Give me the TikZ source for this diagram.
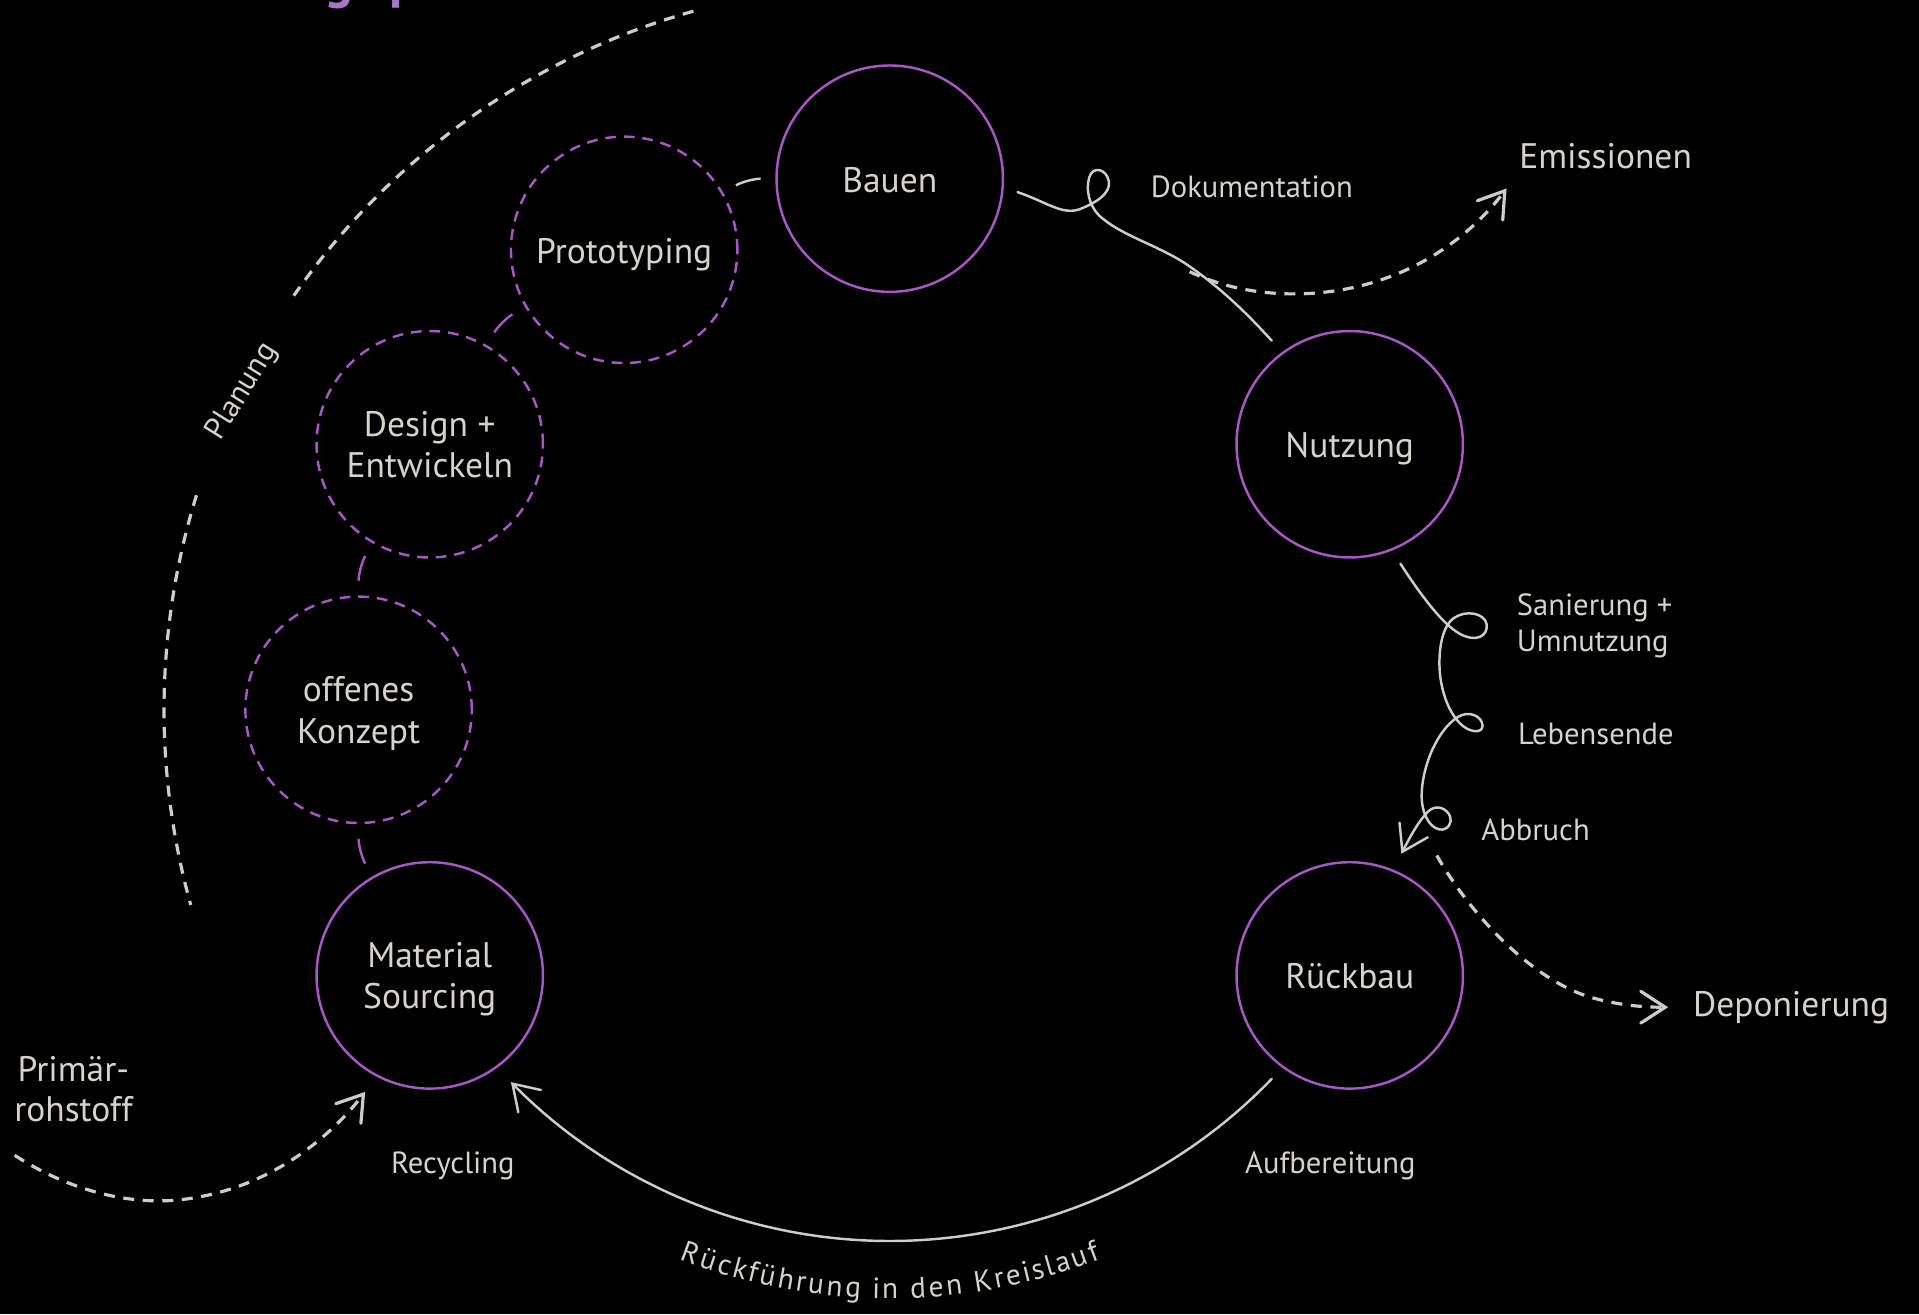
\documentclass[tikz,border=0pt]{standalone}
\usepackage{fontspec}
\setmainfont{PT Sans}
\usetikzlibrary{calc,arrows.meta,decorations.text}

\definecolor{bg}{RGB}{0,0,0}
\definecolor{lilac}{RGB}{170,86,200}
\definecolor{titlelilac}{RGB}{168,118,196}
\definecolor{linegray}{RGB}{205,205,205}
\definecolor{labelgray}{RGB}{214,211,206}

\newcommand\stagefont{\fontsize{14.5pt}{17pt}\selectfont}
\newcommand\notefont{\fontsize{12.5pt}{14.5pt}\selectfont}
\newcommand\arcfont{\fontsize{12pt}{14pt}\selectfont}
\newcommand\outfont{\fontsize{14.5pt}{16.5pt}\selectfont}
\newcommand\headfont{\fontsize{22pt}{26pt}\selectfont\bfseries}

\begin{document}
\begin{tikzpicture}[x=0.5pt,y=0.5pt,
  stage/.style={circle, draw=lilac, line width=1pt, minimum size=92.5pt,
    inner sep=0pt, text=labelgray, font=\stagefont, align=center, text depth=0pt},
  onerow/.style={text height=11pt},
  planstage/.style={stage, dash pattern=on 4.4pt off 3.2pt},
  flow/.style={draw=linegray, line width=1pt, line cap=round},
  dflow/.style={draw=linegray, line width=1.3pt, dash pattern=on 4.5pt off 3.5pt},
  barb/.style={-{Straight Barb[length=10pt,width=13pt,line cap=round]}},
  link/.style={line width=1pt, shorten <=6pt, shorten >=6pt},
  note/.style={text=labelgray, font=\notefont, inner sep=0pt, align=left},
  outlbl/.style={text=labelgray, font=\outfont, inner sep=0pt, align=center},
]
% canvas
\fill[bg] (0,0) rectangle (1568,-1074);
\useasboundingbox (0,0) rectangle (1568,-1074);

% heading, running off the top edge
\begin{scope}
  \clip (0,0) rectangle (1568,-1074);
  \node[anchor=base west, inner sep=0pt, text=titlelilac, font=\headfont] (titleg) at (265,2) {g};
  \node[anchor=base west, inner sep=0pt, text=titlelilac, font=\headfont] (titlep) at (318,2) {p};
\end{scope}

% centre of the cycle
\coordinate (O) at (727,-580);

% stages
\node[stage, onerow] (bauen)    at ($(O)+(90:434)$)  {Bauen};
\node[stage, onerow] (nutzung)  at ($(O)+(30:434)$)  {Nutzung};
\node[stage, onerow] (rueckbau) at ($(O)+(-30:434)$) {Rückbau};
\node[stage] (material) at ($(O)+(210:434)$) {Material\\Sourcing};
\node[planstage] (konzept) at ($(O)+(180:434)$) {offenes\\Konzept};
\node[planstage] (design)  at ($(O)+(150:434)$) {Design +\\Entwickeln};
\node[planstage, onerow] (proto) at ($(O)+(120:434)$) {Prototyping};

% short links between neighbouring stages
\draw[link, linegray] (proto) to[bend left=15] (bauen);
\draw[link, lilac] (design) to[bend left=15] (proto);
\draw[link, lilac] (konzept) to[bend left=15] (design);
\draw[link, lilac] (material) to[bend left=15] (konzept);

% planning bracket
\draw[dflow] ($(O)+(105.7:593)$) arc[start angle=105.7, end angle=145.2, radius=593];
\draw[dflow] ($(O)+(162.8:593)$) arc[start angle=162.8, end angle=195.6, radius=593];
\node[note, rotate=58] (planung) at (198,-320) {Planung};

% Bauen -> Nutzung with loop
\draw[flow] ($(bauen)+(-6:105)$) .. controls (855,-165) and (868,-176) .. (882,-171)
  .. controls (895,-166) and (908,-158) .. (906,-148)
  .. controls (904,-138) and (893,-135) .. (890,-145)
  .. controls (887,-155) and (890,-168) .. (898,-176)
  .. controls (915,-192) and (945,-200) .. (968,-215)
  .. controls (995,-233) and (1018,-255) .. ($(nutzung)+(127:106)$);
\node[note, anchor=west] (doku) at (940,-153) {Dokumentation};

% emissions branch
\node[outlbl, anchor=west] (emiss) at (1241,-128) {Emissionen};
\coordinate (emstart) at (972,-222);
\draw[dflow, barb] (emstart) .. controls (1010,-240) and (1050,-242) .. (1080,-239)
  .. controls (1150,-232) and (1200,-195) .. ($(emiss.west)+(-10,-26)$);

% Nutzung -> Rueckbau with three loops
\draw[flow, barb] ($(nutzung)+(-67:106)$)
  .. controls (1158,-482) and (1178,-510) .. (1193,-518)
  .. controls (1206,-525) and (1216,-520) .. (1214.7,-510)
  .. controls (1213,-501) and (1198,-498) .. (1188,-505)
  .. controls (1178,-512) and (1175,-532) .. (1176.5,-550)
  .. controls (1178,-566) and (1184,-583) .. (1194,-592)
  .. controls (1200,-598) and (1211,-600) .. (1211.4,-593)
  .. controls (1211,-585) and (1200,-580) .. (1191,-586)
  .. controls (1175,-596) and (1162,-625) .. (1161.6,-650)
  .. controls (1161.6,-665) and (1168,-676) .. (1176,-677.7)
  .. controls (1183,-679) and (1187,-672) .. (1184.8,-667)
  .. controls (1182,-660) and (1173,-657) .. (1167,-663)
  .. controls (1158,-672) and (1150,-688) .. ($(rueckbau)+(67:108)$);
\node[note, anchor=west] (sanierung) at (1239,-511.5) {Sanierung +\\Umnutzung};
\node[note, anchor=west] (lebensende) at (1240,-600) {Lebensende};
\node[note, anchor=west] (abbruch) at (1210,-678) {Abbruch};

% landfill branch
\node[outlbl, anchor=west] (depon) at (1383,-823) {Deponierung};
\coordinate (depstart) at (1174,-699);
\draw[dflow, barb] (depstart) .. controls (1200,-745) and (1250,-800) .. (1300,-815)
  .. controls (1325,-822) and (1345,-823) .. ($(depon.west)+(-20,0)$);

% return loop
\draw[flow, barb] ($(O)+(-44:434)$) arc[start angle=-44, end angle=-135.5, radius=434];
\path[decorate, decoration={text effects along path,
    text={Rückführung in den Kreislauf},
    text effects/.cd, text along path, fit text to path,
    characters={text=labelgray, font=\arcfont, anchor=base}}]
  ($(O)+(-111:481)$) arc[start angle=-111, end angle=-69, radius=481];
\node[note] (recycling) at (370,-953) {Recycling};
\node[note] (aufbereitung) at (1087,-953) {Aufbereitung};

% primary raw material
\node[outlbl] (prim) at (60,-890) {Primär-\\rohstoff};
\coordinate (primstart) at (12,-944);
\draw[dflow, barb] (primstart) .. controls (60,-975) and (110,-985) .. (150,-980)
  .. controls (215,-972) and (265,-935) .. ($(material)+(241:108.8)$);
\end{tikzpicture}
\end{document}
